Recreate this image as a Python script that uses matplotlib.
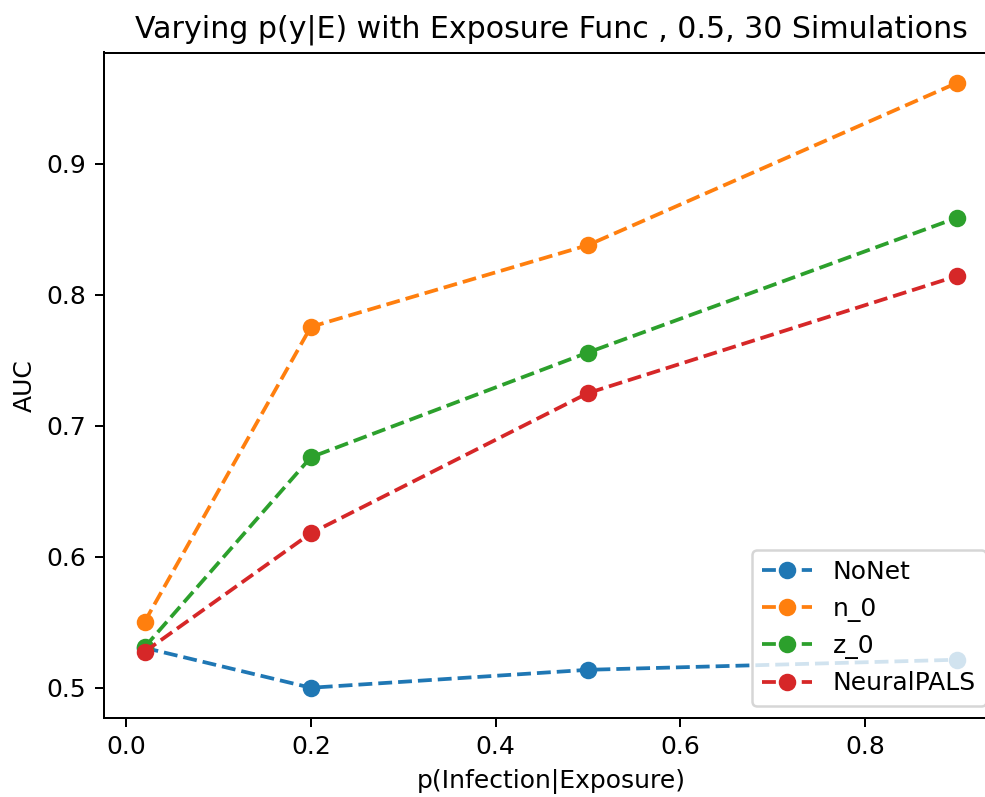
import matplotlib
matplotlib.use("Agg")
import matplotlib.pyplot as plt

x = [0.02, 0.2, 0.5, 0.9]
nonet = [0.5305, 0.500, 0.5137, 0.5214]
n_0 = [0.5504, 0.7756, 0.838, 0.962]
z_0 = [0.531, 0.676, 0.756, 0.859]
neuralpals = [0.5275, 0.618, 0.725, 0.8145]
series = [("NoNet", nonet), ("n_0", n_0), ("z_0", z_0), ("NeuralPALS", neuralpals)]

W, H, DPI = 985, 797, 180
fig = plt.figure(figsize=(W / DPI, H / DPI), dpi=DPI)
ax = fig.add_axes([104 / W, (H - 718) / H, (998 - 104) / W, (718 - 52.5) / H])

for name, vals in series:
    ax.plot(x, vals, "o--", label=name)

ax.set_title("Varying p(y|E) with Exposure Func , 0.5, 30 Simulations")
ax.set_xlabel("p(Infection|Exposure)")
ax.set_ylabel("AUC")
ax.legend(loc="lower right")

fig.savefig("out.png", dpi=DPI)
